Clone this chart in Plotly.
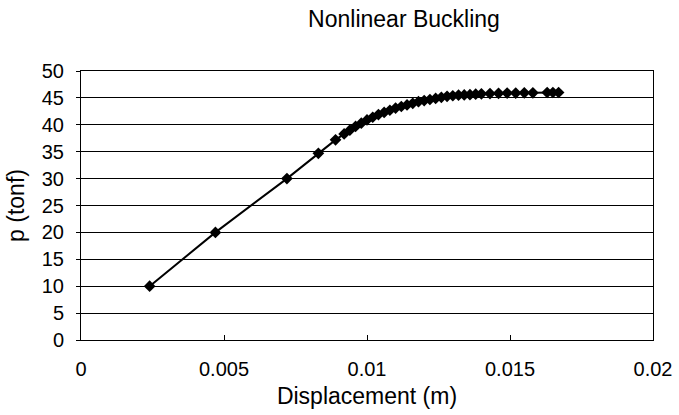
import plotly.graph_objects as go

displacement_m = [0.0024, 0.0047, 0.0072, 0.0083, 0.0089, 0.0092, 0.0094, 0.0096, 0.0098, 0.0100,
                  0.0102, 0.0104, 0.0106, 0.0108, 0.0110, 0.0112, 0.0114, 0.0116, 0.0118, 0.0120,
                  0.0122, 0.0124, 0.0126, 0.0128, 0.0130, 0.0132, 0.0134, 0.0136, 0.0138, 0.0140,
                  0.0143, 0.0146, 0.0149, 0.0152, 0.0155, 0.0158, 0.0163, 0.0165, 0.0167]
load_tonf = [10, 20, 30, 34.7, 37.2, 38.3, 39.0, 39.7, 40.3, 40.9,
             41.4, 41.9, 42.3, 42.7, 43.1, 43.4, 43.7, 44.0, 44.3, 44.5,
             44.7, 44.9, 45.1, 45.3, 45.4, 45.5, 45.55, 45.6, 45.7, 45.75,
             45.8, 45.85, 45.9, 45.9, 45.95, 45.95, 46.0, 46.0, 46.0]

x_ticks = [0, 0.005, 0.01, 0.015, 0.02]
x_tick_labels = ["0", "0.005", "0.01", "0.015", "0.02"]
y_ticks = list(range(0, 51, 5))

font = "Liberation Sans, Arial, sans-serif"

fig = go.Figure(go.Scatter(
    x=displacement_m, y=load_tonf, mode="lines+markers",
    line=dict(color="black", width=2),
    marker=dict(symbol="diamond", size=9, color="black"),
    showlegend=False,
))

fig.update_layout(
    width=679, height=415,
    margin=dict(l=81, r=26, t=71, b=75),
    paper_bgcolor="white", plot_bgcolor="white",
    font=dict(family=font, color="black", size=20),
    title=dict(text="Nonlinear Buckling", x=404/679, xanchor="center",
               y=1-19/415, yanchor="middle", yref="container",
               font=dict(family=font, size=23, color="black")),
)
fig.update_xaxes(
    range=[0, 0.02], tickvals=x_ticks, ticktext=x_tick_labels,
    showgrid=False, zeroline=False, showline=True, linecolor="black", linewidth=1,
    mirror=True, ticks="inside", ticklen=5, tickcolor="black",
    ticklabelstandoff=11, automargin=False,
    title=dict(text="Displacement (m)", font=dict(size=23), standoff=8),
    tickfont=dict(size=20),
)
fig.update_yaxes(
    range=[0, 50], tickvals=y_ticks,
    showgrid=True, gridcolor="black", gridwidth=1, zeroline=False,
    showline=True, linecolor="black", linewidth=1, mirror=True,
    ticks="outside", ticklen=4, tickcolor="black", automargin=False,
    ticklabelstandoff=8,
    title=dict(text="p (tonf)", font=dict(size=23), standoff=10),
    tickfont=dict(size=20),
)

fig.write_html("out.html", config={"displayModeBar": False},
               post_script="document.body.style.margin='0px';")
